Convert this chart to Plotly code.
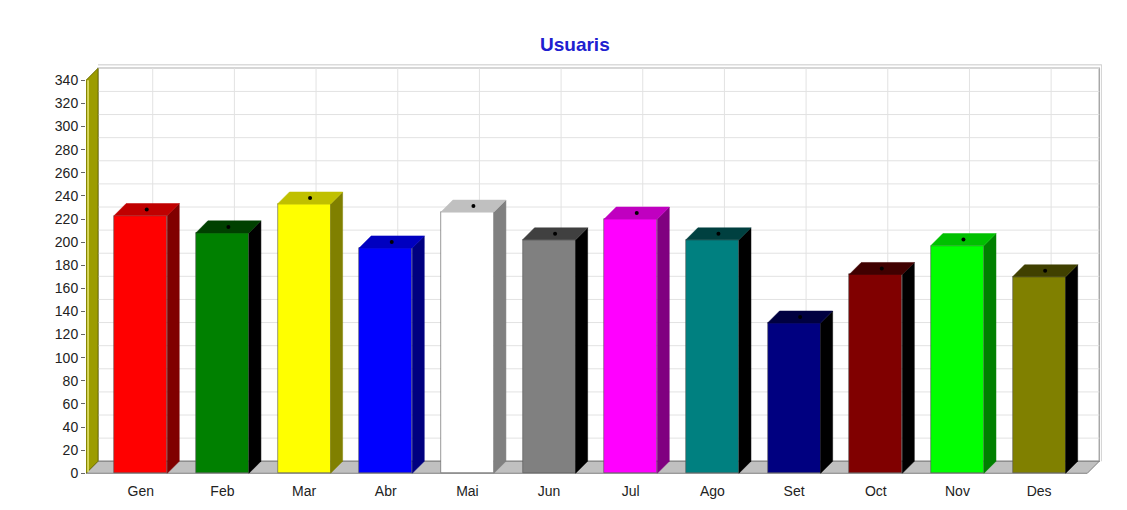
import plotly.graph_objects as go

# Monthly users (Catalan month abbreviations)
months = ["Gen", "Feb", "Mar", "Abr", "Mai", "Jun", "Jul", "Ago", "Set", "Oct", "Nov", "Des"]
users = [223, 208, 233, 195, 226, 202, 220, 202, 130, 172, 197, 170]

front_colors = ["#ff0000", "#008000", "#ffff00", "#0000ff", "#ffffff", "#808080",
                "#ff00ff", "#008080", "#000080", "#800000", "#00ff00", "#808000"]
side_colors = ["#800000", "#000000", "#808000", "#000080", "#808080", "#000000",
               "#800080", "#000000", "#000000", "#000000", "#008000", "#000000"]
top_colors = ["#c00000", "#004000", "#c0c000", "#0000c0", "#c0c0c0", "#404040",
              "#c000c0", "#004040", "#000040", "#400000", "#00c000", "#404000"]

y_ticks = list(range(0, 341, 20))

# 3D depth offset (in data units) and geometry
dx, dy = 0.147, 10.4
bar_w = 0.65
x_left, x_right = -0.67, 11.59
y_top = 340

fig = go.Figure()

# side and top faces of each bar
for i, v in enumerate(users):
    r = i + bar_w / 2
    l = i - bar_w / 2
    fig.add_trace(go.Scatter(
        x=[r, r + dx, r + dx, r, r], y=[0, dy, v + dy, v, 0],
        fill="toself", fillcolor=side_colors[i], mode="lines",
        line=dict(color=side_colors[i], width=0.5), hoverinfo="skip", showlegend=False))
    fig.add_trace(go.Scatter(
        x=[l, l + dx, r + dx, r, l], y=[v, v + dy, v + dy, v, v],
        fill="toself", fillcolor=top_colors[i], mode="lines",
        line=dict(color=top_colors[i], width=0.5), hoverinfo="skip", showlegend=False))

# front faces
fig.add_trace(go.Bar(
    x=list(range(len(months))), y=users, width=bar_w,
    marker=dict(color=front_colors, line=dict(color="#555555", width=0.6)),
    hovertemplate="%{text}: %{y}<extra></extra>", text=months, textposition="none",
    showlegend=False))

# small dots on top of each bar
fig.add_trace(go.Scatter(
    x=[i + dx / 2 for i in range(len(users))], y=[v + dy / 2 for v in users],
    mode="markers", marker=dict(color="black", size=4), hoverinfo="skip", showlegend=False))

shapes = []
# back wall
shapes.append(dict(type="rect", xref="x", yref="y", layer="below",
                   x0=x_left + dx, x1=x_right + dx, y0=dy, y1=y_top + dy,
                   fillcolor="white", line=dict(color="#a8a8a8", width=1.5)))
shapes.append(dict(type="line", xref="x", yref="y", layer="below",
                   x0=x_left + dx, x1=x_right + dx + 0.03, y0=y_top + dy + 3, y1=y_top + dy + 3,
                   line=dict(color="#c8c8c8", width=1)))
shapes.append(dict(type="line", xref="x", yref="y", layer="below",
                   x0=x_right + dx + 0.03, x1=x_right + dx + 0.03, y0=dy, y1=y_top + dy + 3,
                   line=dict(color="#c8c8c8", width=1)))
# grid lines on the back wall
for t in y_ticks[1:]:
    shapes.append(dict(type="line", xref="x", yref="y", layer="below",
                       x0=x_left + dx, x1=x_right + dx, y0=t + dy, y1=t + dy,
                       line=dict(color="#e2e2e2", width=1)))
for i in range(len(months)):
    shapes.append(dict(type="line", xref="x", yref="y", layer="below",
                       x0=i + dx, x1=i + dx, y0=dy, y1=y_top + dy,
                       line=dict(color="#e2e2e2", width=1)))
# floor
shapes.append(dict(type="path", xref="x", yref="y", layer="below",
                   path=f"M {x_left},0 L {x_right},0 L {x_right + dx},{dy} L {x_left + dx},{dy} Z",
                   fillcolor="#c0c0c0", line=dict(color="#808080", width=1)))
# left wall
shapes.append(dict(type="path", xref="x", yref="y", layer="below",
                   path=f"M {x_left},0 L {x_left + dx},{dy} L {x_left + dx},{y_top + dy} L {x_left},{y_top} Z",
                   fillcolor="#9c9c00", line=dict(color="#707000", width=1)))
shapes.append(dict(type="line", xref="x", yref="y", layer="below",
                   x0=x_left + 0.025, x1=x_left + 0.025, y0=1, y1=y_top,
                   line=dict(color="#e8e878", width=1.5)))

# page has an 8px body margin, so margins are shifted to compensate
fig.update_layout(
    width=1127, height=510,
    margin=dict(l=78, r=33, t=55, b=43),
    paper_bgcolor="white", plot_bgcolor="rgba(0,0,0,0)",
    font=dict(family="Arial, Liberation Sans, sans-serif", color="#222222"),
    title=dict(text="<b>Usuaris</b>", x=0.503, xanchor="center", y=0.929, yanchor="middle",
               yref="container", font=dict(size=19, color="#2020d0")),
    shapes=shapes,
    bargap=0,
)
fig.update_xaxes(range=[x_left, 11.77], tickvals=list(range(len(months))), ticktext=months,
                 showgrid=False, zeroline=False, showline=False,
                 ticks="outside", ticklen=3, tickcolor="rgba(0,0,0,0)",
                 tickfont=dict(size=14, color="#222222"))
fig.update_yaxes(range=[-1.5, 355], tickvals=y_ticks, showgrid=False, zeroline=False,
                 showline=False, ticks="outside", ticklen=4, tickcolor="#666666",
                 tickfont=dict(size=14, color="#222222"))

fig.write_html("out.html")
